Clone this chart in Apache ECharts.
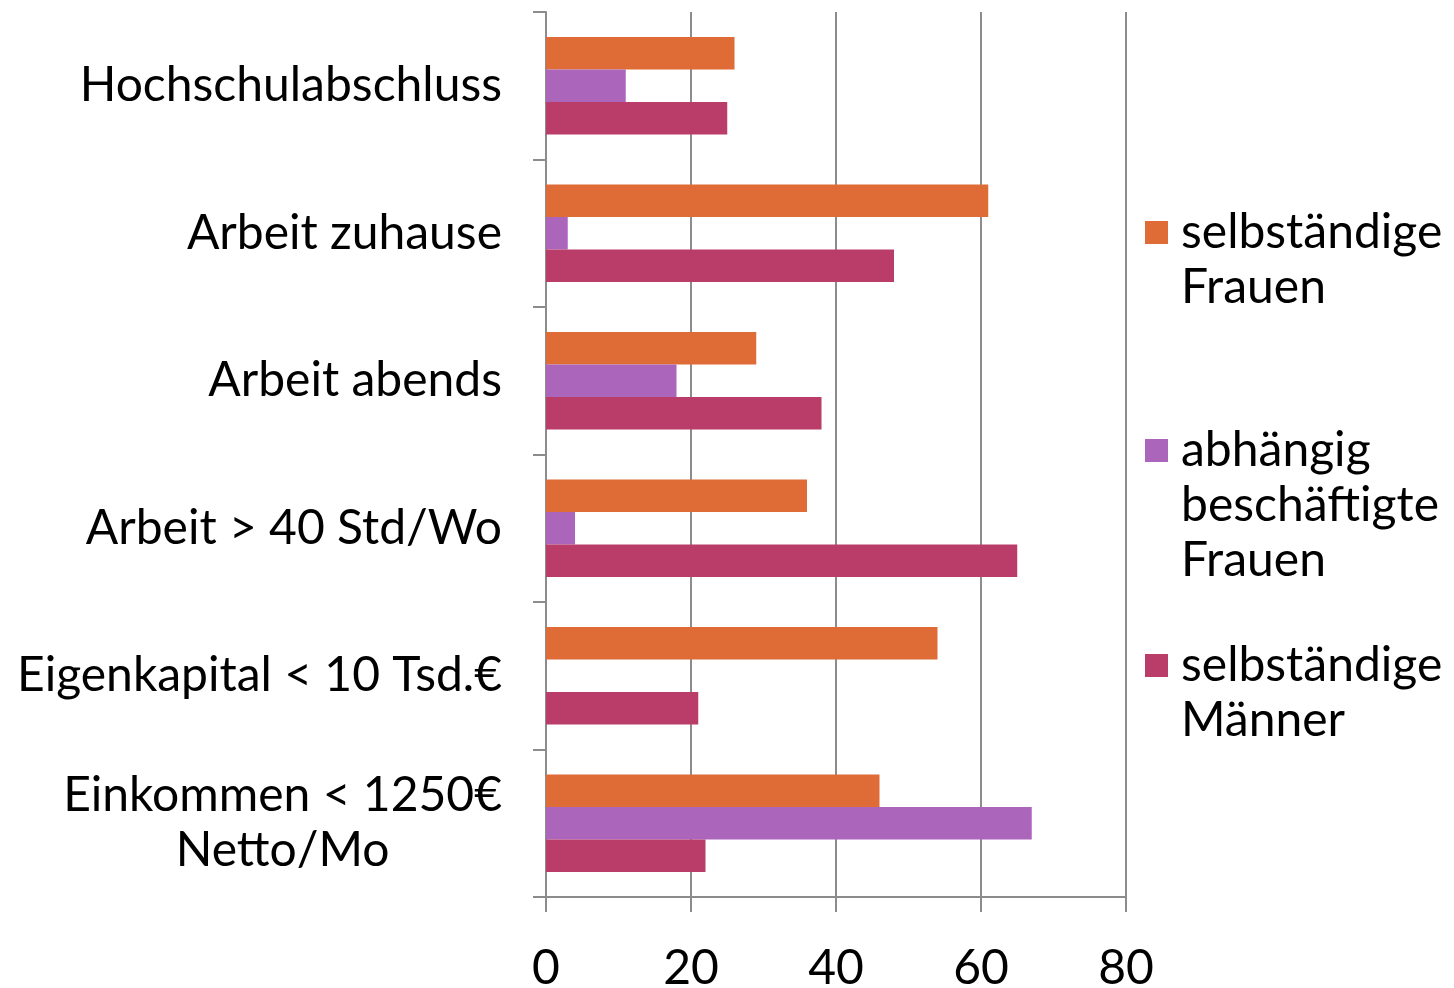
<!DOCTYPE html>
<html>
<head>
<meta charset="utf-8">
<script src="https://cdn.jsdelivr.net/npm/echarts@6/dist/echarts.min.js"></script>
<style>html,body{margin:0;padding:0;background:#fff}#c{width:1454px;height:988px}</style>
</head>
<body>
<div id="c"></div>
<script>
const categories = ["Hochschulabschluss", "Arbeit zuhause", "Arbeit abends", "Arbeit > 40 Std/Wo", "Eigenkapital < 10 Tsd.€", "Einkommen < 1250€\nNetto/Mo"];
const seriesNames = ["selbständige\nFrauen", "abhängig\nbeschäftigte\nFrauen", "selbständige\nMänner"];
const selbFrauen = [26, 61, 29, 36, 54, 46];
const abhFrauen = [11, 3, 18, 4, 0, 67];
const selbMaenner = [25, 48, 38, 65, 21, 22];
const xTicks = [0, 20, 40, 60, 80];

const colors = ["#DF6C37", "#AB66BC", "#B93D68"];
const FONT = "Lato";
const FS = 48;
const LH = 55;
const gray = "#8c8c8c";

const chart = echarts.init(document.getElementById('c'));
function legendFor(i, top) {
  const n = seriesNames[i].split('\n').length;
  return {
    data: [seriesNames[i]], orient: 'vertical', left: 1145, top: top, padding: 0,
    itemWidth: 23, itemHeight: 23, icon: 'rect', selectedMode: false,
    formatter: function (name) { return '\n'.repeat(n - 1) + name; },
    textStyle: { fontFamily: FONT, fontSize: FS, lineHeight: LH, color: '#000', padding: [0, 0, 0, 8] }
  };
}
chart.setOption({
  animation: false,
  color: colors,
  textStyle: { fontFamily: FONT },
  grid: { left: 546, right: 328, top: 12, bottom: 91, containLabel: false, outerBoundsMode: 'none' },
  legend: [legendFor(0, 150), legendFor(1, 313), legendFor(2, 583)],
  xAxis: {
    type: 'value', min: xTicks[0], max: xTicks[xTicks.length - 1], interval: 20,
    axisLine: { show: true, lineStyle: { color: gray, width: 2 } },
    axisTick: { show: true, length: 15, lineStyle: { color: gray, width: 2 } },
    splitLine: { show: true, lineStyle: { color: gray, width: 2 } },
    axisLabel: { fontFamily: FONT, fontSize: FS, color: '#000', margin: 48 }
  },
  yAxis: {
    type: 'category', data: categories, inverse: true,
    axisLine: { show: true, lineStyle: { color: gray, width: 2 } },
    axisTick: { show: true, length: 13, lineStyle: { color: gray, width: 2 } },
    axisLabel: {
      fontFamily: FONT, fontSize: FS, color: '#000', margin: 44, lineHeight: LH,
      formatter: function (v) {
        if (v.indexOf('\n') < 0) return v;
        return v.split('\n').map(function (s) { return '{c|' + s + '}'; }).join('\n');
      },
      rich: { c: { align: 'center', fontFamily: FONT, fontSize: FS, lineHeight: LH, color: '#000' } }
    }
  },
  series: [
    { name: seriesNames[0], type: 'bar', data: selbFrauen, barGap: '0%', barCategoryGap: '34%' },
    { name: seriesNames[1], type: 'bar', data: abhFrauen, barGap: '0%', barCategoryGap: '34%' },
    { name: seriesNames[2], type: 'bar', data: selbMaenner, barGap: '0%', barCategoryGap: '34%' }
  ]
});
</script>
</body>
</html>
